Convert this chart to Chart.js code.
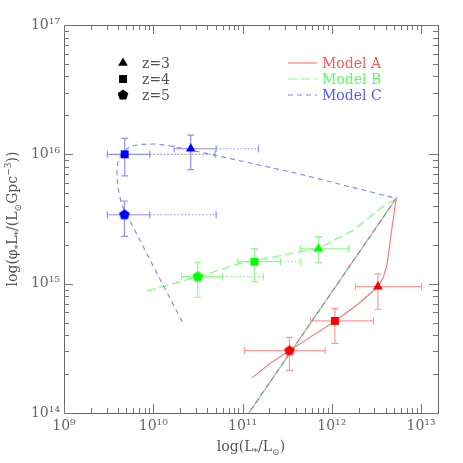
<!DOCTYPE html>
<html>
<head>
<meta charset="utf-8">
<script src="https://cdn.jsdelivr.net/npm/chart.js@4/dist/chart.umd.min.js"></script>
<style>
  html, body { margin: 0; padding: 0; background: #fff; }
  #wrap { width: 463px; height: 463px; }
</style>
</head>
<body>
<div id="wrap"><canvas id="chart" width="463" height="463"></canvas></div>
<script>
// all values are log10
const zLabels = ['z=3', 'z=4', 'z=5'];
const modelNames = ['Model A', 'Model B', 'Model C'];

const modelA_logL   = [11.104, 11.309, 11.534, 11.795, 12.038, 12.281, 12.517, 12.573, 12.618, 12.655, 12.692, 12.722, 11.07];
const modelA_logPhi = [14.272, 14.384, 14.487, 14.602, 14.711, 14.835, 14.976, 15.041, 15.144, 15.337, 15.517, 15.660, 14.0];

const modelB_logL   = [9.927, 10.499, 10.973, 11.122, 11.851, 12.243, 12.543, 12.722, 11.07];
const modelB_logPhi = [14.943, 15.053, 15.157, 15.177, 15.273, 15.415, 15.582, 15.660, 14.0];

const modelC_logL   = [10.326, 9.987, 9.647, 9.609, 9.591, 9.602, 9.639, 9.717, 9.774, 9.871, 10.020, 10.132, 10.244, 10.839, 11.609, 12.352, 12.722, 11.07];
const modelC_logPhi = [14.705, 15.152, 15.608, 15.724, 15.840, 15.933, 16.002, 16.049, 16.067, 16.077, 16.080, 16.072, 16.059, 15.971, 15.853, 15.724, 15.660, 14.0];

// observed points, ordered z=3, z=4, z=5
const obsA_logL     = [12.517, 12.035, 11.526];
const obsA_logPhi   = [14.977, 14.712, 14.482];
const obsA_logLlo   = [12.266, 11.761, 11.021];
const obsA_logLhi   = [13.006, 12.467, 11.926];
const obsA_logLext  = [null, null, null];
const obsA_logPhiLo = [14.802, 14.539, 14.330];
const obsA_logPhiHi = [15.075, 14.807, 14.585];

const obsB_logL     = [11.851, 11.133, 10.499];
const obsB_logPhi   = [15.270, 15.170, 15.054];
const obsB_logLlo   = [11.649, 10.947, 10.319];
const obsB_logLhi   = [12.187, 11.425, 10.775];
const obsB_logLext  = [null, 11.653, 11.234];
const obsB_logPhiLo = [15.163, 15.016, 14.895];
const obsB_logPhiHi = [15.364, 15.271, 15.166];

const obsC_logL     = [10.420, 9.680, 9.677];
const obsC_logPhi   = [16.043, 16.0, 15.533];
const obsC_logLlo   = [10.233, 9.486, 9.486];
const obsC_logLhi   = [10.704, 9.961, 9.961];
const obsC_logLext  = [11.178, 10.693, 10.704];
const obsC_logPhiLo = [15.881, 15.834, 15.366];
const obsC_logPhiHi = [16.149, 16.123, 15.639];

const xDecades = [9, 10, 11, 12, 13];
const yDecades = [14, 15, 16, 17];

const p10 = v => Math.pow(10, v);
const toPts = (lx, ly) => lx.map((v, i) => ({ x: p10(v), y: p10(ly[i]) }));

const FONT = '"DejaVu Serif", "Liberation Serif", serif';
const GREY = '#666';

const styles = {
  A: { mark: '#ff0000', line: '#ff7272', err: '#ff9a9a', text: '#ff5a5a', dash: [] },
  B: { mark: '#00ff00', line: '#78ff78', err: '#8cff8c', text: '#5cff5c', dash: [9, 4] },
  C: { mark: '#0000ff', line: '#8282ff', err: '#8f8fff', text: '#5a5aff', dash: [5, 4] }
};

function pentagon(color, r) {
  const c = document.createElement('canvas');
  c.width = c.height = Math.ceil(2 * r + 2);
  const g = c.getContext('2d');
  g.fillStyle = color;
  g.beginPath();
  for (let k = 0; k < 5; k++) {
    const a = -Math.PI / 2 + k * 2 * Math.PI / 5;
    const px = c.width / 2 + r * Math.cos(a), py = c.height / 2 + r * Math.sin(a);
    k ? g.lineTo(px, py) : g.moveTo(px, py);
  }
  g.closePath();
  g.fill();
  return c;
}

const markerStyles = ['triangle', 'rect', null];
const markerRadius = [5.6, 5.6, 0];

function obsDataset(key, lx, ly) {
  const s = styles[key];
  const pent = pentagon(s.mark, 5.6);
  return {
    label: 'obs ' + key,
    data: toPts(lx, ly),
    showLine: false,
    pointStyle: markerStyles.map(m => m || pent),
    pointRadius: markerRadius.map(r => r || 5),
    backgroundColor: s.mark,
    borderColor: s.mark,
    borderWidth: 0,
    order: 0
  };
}

function modelDataset(key, lx, ly, order) {
  const s = styles[key];
  return {
    label: 'model ' + key,
    data: toPts(lx, ly),
    showLine: true,
    borderColor: s.line,
    borderWidth: 1.1,
    borderDash: s.dash,
    pointRadius: 0,
    tension: 0,
    order: order
  };
}

const errSets = [
  { key: 'A', x: obsA_logL, y: obsA_logPhi, xlo: obsA_logLlo, xhi: obsA_logLhi, xext: obsA_logLext, ylo: obsA_logPhiLo, yhi: obsA_logPhiHi },
  { key: 'B', x: obsB_logL, y: obsB_logPhi, xlo: obsB_logLlo, xhi: obsB_logLhi, xext: obsB_logLext, ylo: obsB_logPhiLo, yhi: obsB_logPhiHi },
  { key: 'C', x: obsC_logL, y: obsC_logPhi, xlo: obsC_logLlo, xhi: obsC_logLhi, xext: obsC_logLext, ylo: obsC_logPhiLo, yhi: obsC_logPhiHi }
];

const errorBars = {
  id: 'errorBars',
  beforeDatasetsDraw(chart) {
    const { ctx, scales: { x, y } } = chart;
    const cap = 3.5;
    ctx.save();
    errSets.forEach(set => {
      ctx.strokeStyle = styles[set.key].err;
      ctx.lineWidth = 1.2;
      set.x.forEach((lx, i) => {
        const cx = x.getPixelForValue(p10(lx)), cy = y.getPixelForValue(p10(set.y[i]));
        const x0 = x.getPixelForValue(p10(set.xlo[i])), x1 = x.getPixelForValue(p10(set.xhi[i]));
        const y0 = y.getPixelForValue(p10(set.ylo[i])), y1 = y.getPixelForValue(p10(set.yhi[i]));
        ctx.setLineDash([]);
        ctx.beginPath();
        ctx.moveTo(x0, cy); ctx.lineTo(x1, cy);
        ctx.moveTo(x0, cy - cap); ctx.lineTo(x0, cy + cap);
        ctx.moveTo(x1, cy - cap); ctx.lineTo(x1, cy + cap);
        ctx.moveTo(cx, y0); ctx.lineTo(cx, y1);
        ctx.moveTo(cx - cap, y0); ctx.lineTo(cx + cap, y0);
        ctx.moveTo(cx - cap, y1); ctx.lineTo(cx + cap, y1);
        ctx.stroke();
        if (set.xext[i] != null) {
          const x2 = x.getPixelForValue(p10(set.xext[i]));
          ctx.setLineDash([1.5, 2]);
          ctx.beginPath();
          ctx.moveTo(x1, cy); ctx.lineTo(x2, cy);
          ctx.stroke();
          ctx.setLineDash([]);
          ctx.beginPath();
          ctx.moveTo(x2, cy - cap); ctx.lineTo(x2, cy + cap);
          ctx.stroke();
        }
      });
    });
    ctx.restore();
  }
};

// draw text with sub/superscript pieces: [text, shift] (shift: 0 normal, -1 sup, 1 sub)
function richWidth(ctx, parts, size) {
  let w = 0;
  parts.forEach(([t, s]) => {
    ctx.font = (s ? size * 0.65 : size) + 'px ' + FONT;
    w += ctx.measureText(t).width;
  });
  return w;
}
function richText(ctx, parts, x, y, size) {
  let cx = x;
  parts.forEach(([t, s]) => {
    ctx.font = (s ? size * 0.65 : size) + 'px ' + FONT;
    const dy = s === -1 ? -size * 0.4 : s === 1 ? size * 0.3 : 0;
    ctx.fillText(t, cx, y + dy);
    cx += ctx.measureText(t).width;
  });
}

const frame = {
  id: 'frame',
  afterDraw(chart) {
    const { ctx, chartArea: a, scales: { x, y } } = chart;
    ctx.save();
    ctx.strokeStyle = GREY;
    ctx.lineWidth = 1;
    ctx.strokeRect(Math.round(a.left) + 0.5, Math.round(a.top) + 0.5, Math.round(a.right - a.left), Math.round(a.bottom - a.top));

    // inward ticks on all four sides
    ctx.strokeStyle = '#777';
    ctx.beginPath();
    const xmax = Math.log10(x.max);
    for (let d = 9; d <= 13; d++) {
      for (let m = 1; m <= 9; m++) {
        const lv = d + Math.log10(m);
        if (lv > xmax) break;
        const px = Math.round(x.getPixelForValue(p10(lv))) + 0.5;
        const len = m === 1 ? 9 : 5;
        ctx.moveTo(px, a.bottom); ctx.lineTo(px, a.bottom - len);
        ctx.moveTo(px, a.top); ctx.lineTo(px, a.top + len);
      }
    }
    for (let d = 14; d <= 17; d++) {
      for (let m = 1; m <= 9; m++) {
        if (d === 17 && m > 1) break;
        const py = Math.round(y.getPixelForValue(p10(d + Math.log10(m)))) + 0.5;
        const len = m === 1 ? 9 : 5;
        ctx.moveTo(a.left, py); ctx.lineTo(a.left + len, py);
        ctx.moveTo(a.right, py); ctx.lineTo(a.right - len, py);
      }
    }
    ctx.stroke();

    // axis titles
    ctx.fillStyle = '#555';
    ctx.textBaseline = 'alphabetic';
    const xt = [['log(L', 0], ['*', 1], ['/L', 0], ['\u2299', 1], [')', 0]];
    const xw = richWidth(ctx, xt, 14);
    richText(ctx, xt, (a.left + a.right) / 2 - xw / 2, 451, 14);

    const yt = [['log(\u03c6', 0], ['*', 1], ['L', 0], ['*', 1], ['/(L', 0], ['\u2299', 1], ['Gpc', 0], ['\u22123', -1], ['))', 0]];
    const yw = richWidth(ctx, yt, 14);
    ctx.save();
    ctx.translate(17, (a.top + a.bottom) / 2);
    ctx.rotate(-Math.PI / 2);
    richText(ctx, yt, -yw / 2, 0, 14);
    ctx.restore();

    // legend: redshift markers
    const rows = [a.top + 38, a.top + 54, a.top + 70];
    ctx.fillStyle = '#000';
    ctx.strokeStyle = '#000';
    const blackPent = pentagon('#000', 5.6);
    zLabels.forEach((lab, i) => {
      const style = markerStyles[i] || blackPent;
      Chart.helpers.drawPoint(ctx, { pointStyle: style, radius: markerRadius[i] || 5, rotation: 0, borderWidth: 0 }, a.left + 59, rows[i]);
    });
    ctx.fillStyle = '#555';
    ctx.font = '14px ' + FONT;
    ctx.textBaseline = 'middle';
    zLabels.forEach((lab, i) => ctx.fillText(lab, a.left + 78, rows[i] + 1));

    // legend: models
    ['A', 'B', 'C'].forEach((k, i) => {
      const s = styles[k];
      ctx.strokeStyle = s.line;
      ctx.lineWidth = 1.1;
      ctx.setLineDash(s.dash);
      ctx.beginPath();
      ctx.moveTo(a.left + 224, rows[i]); ctx.lineTo(a.left + 253, rows[i]);
      ctx.stroke();
      ctx.setLineDash([]);
      ctx.fillStyle = s.text;
      ctx.fillText(modelNames[i], a.left + 258, rows[i] + 1);
    });
    ctx.restore();
  }
};

const sup = { '0': '\u2070', '1': '\u00b9', '2': '\u00b2', '3': '\u00b3', '4': '\u2074', '5': '\u2075', '6': '\u2076', '7': '\u2077', '8': '\u2078', '9': '\u2079' };
const powLabel = v => '10' + String(Math.round(Math.log10(v))).split('').map(c => sup[c]).join('');

new Chart(document.getElementById('chart'), {
  type: 'scatter',
  data: {
    datasets: [
      obsDataset('A', obsA_logL, obsA_logPhi),
      obsDataset('B', obsB_logL, obsB_logPhi),
      obsDataset('C', obsC_logL, obsC_logPhi),
      modelDataset('C', modelC_logL, modelC_logPhi, 1),
      modelDataset('B', modelB_logL, modelB_logPhi, 2),
      modelDataset('A', modelA_logL, modelA_logPhi, 3)
    ]
  },
  options: {
    responsive: false,
    animation: false,
    devicePixelRatio: 1,
    layout: { padding: { top: 25, right: 25, left: 0, bottom: 0 } },
    plugins: { legend: { display: false }, tooltip: { enabled: false } },
    scales: {
      x: {
        type: 'logarithmic',
        min: p10(9), max: p10(13.19),
        grid: { display: false, drawTicks: false },
        border: { display: false },
        afterBuildTicks: s => { s.ticks = xDecades.map(d => ({ value: p10(d) })); },
        afterFit: s => { s.height = 50; },
        ticks: { callback: powLabel, color: GREY, padding: 5, maxRotation: 0, autoSkip: false, font: { family: FONT, size: 14 } }
      },
      y: {
        type: 'logarithmic',
        min: p10(14), max: p10(17),
        grid: { display: false, drawTicks: false },
        border: { display: false },
        afterBuildTicks: s => { s.ticks = yDecades.map(d => ({ value: p10(d) })); },
        afterFit: s => { s.width = 64; },
        ticks: { callback: powLabel, color: GREY, padding: 4, autoSkip: false, font: { family: FONT, size: 14 } }
      }
    }
  },
  plugins: [errorBars, frame]
});
</script>
</body>
</html>
